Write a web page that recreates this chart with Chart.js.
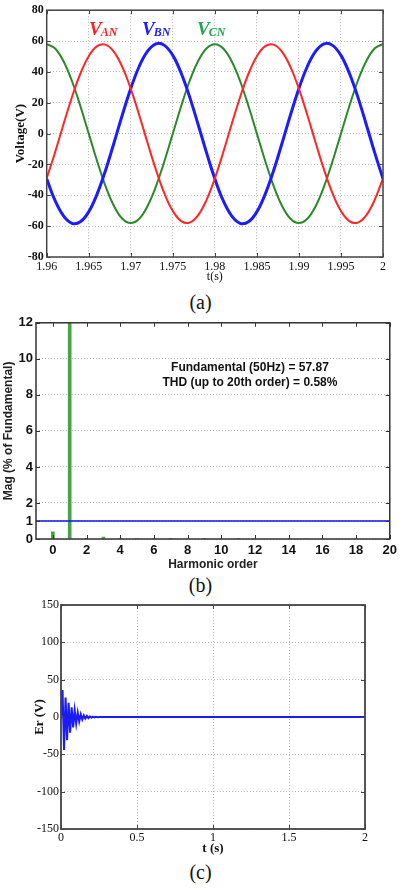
<!DOCTYPE html>
<html>
<head>
<meta charset="utf-8">
<script src="https://cdn.jsdelivr.net/npm/chart.js@4.4.0/dist/chart.umd.min.js"></script>
<style>
  body { margin: 0; background: #fff; width: 401px; height: 888px; position: relative; overflow: hidden; }
  canvas { position: absolute; left: 0; }
  .cap { position: absolute; left: 0; width: 401px; text-align: center; font: 20px "Liberation Serif", serif; line-height: 20px; color: #111; }
</style>
</head>
<body>
<canvas id="chA" width="401" height="287" style="top:0"></canvas>
<div class="cap" style="top:292px">(a)</div>
<canvas id="chB" width="401" height="262" style="top:312px"></canvas>
<div class="cap" style="top:575px">(b)</div>
<canvas id="chC" width="401" height="265" style="top:595px"></canvas>
<div class="cap" style="top:862px">(c)</div>
<script>
/* (a) phase voltages over the last two cycles */
const tA = [1.960, 1.961, 1.962, 1.963, 1.964, 1.965, 1.966, 1.967, 1.968, 1.969,
            1.970, 1.971, 1.972, 1.973, 1.974, 1.975, 1.976, 1.977, 1.978, 1.979,
            1.980, 1.981, 1.982, 1.983, 1.984, 1.985, 1.986, 1.987, 1.988, 1.989,
            1.990, 1.991, 1.992, 1.993, 1.994, 1.995, 1.996, 1.997, 1.998, 1.999, 2.000];
const vAN = [-29.0, -12.1, 6.1, 23.6, 38.8, 50.2, 56.7, 57.7, 53.0, 43.1,
             29.0, 12.1, -6.1, -23.6, -38.8, -50.2, -56.7, -57.7, -53.0, -43.1,
             -29.0, -12.1, 6.1, 23.6, 38.8, 50.2, 56.7, 57.7, 53.0, 43.1,
             29.0, 12.1, -6.1, -23.6, -38.8, -50.2, -56.7, -57.7, -53.0, -43.1, -29.0];
const vBN = [-29.3, -43.5, -53.4, -58.2, -57.2, -50.7, -39.1, -23.8, -6.1, 12.2,
             29.3, 43.5, 53.4, 58.2, 57.2, 50.7, 39.1, 23.8, 6.1, -12.2,
             -29.3, -43.5, -53.4, -58.2, -57.2, -50.7, -39.1, -23.8, -6.1, 12.2,
             29.3, 43.5, 53.4, 58.2, 57.2, 50.7, 39.1, 23.8, 6.1, -12.2, -29.3];
const vCN = [58.0, 55.2, 46.9, 34.1, 17.9, 0.0, -17.9, -34.1, -46.9, -55.2,
             -58.0, -55.2, -46.9, -34.1, -17.9, 0.0, 17.9, 34.1, 46.9, 55.2,
             58.0, 55.2, 46.9, 34.1, 17.9, 0.0, -17.9, -34.1, -46.9, -55.2,
             -58.0, -55.2, -46.9, -34.1, -17.9, 0.0, 17.9, 34.1, 46.9, 55.2, 58.0];
const xTicksA = [1.96, 1.965, 1.97, 1.975, 1.98, 1.985, 1.99, 1.995, 2];
const xTickLabelsA = ['1.96', '1.965', '1.97', '1.975', '1.98', '1.985', '1.99', '1.995', '2'];
const phaseNames = ['AN', 'BN', 'CN'];

/* (b) FFT of the phase voltage */
const harmonicOrder = [0, 1, 2, 3, 4, 5, 6, 7, 8, 9, 10, 11, 12, 13, 14, 15, 16, 17, 18, 19, 20];
const magPct = [0.4, 100, 0.02, 0.1, 0.02, 0.03, 0.01, 0.02, 0, 0.01, 0, 0.01, 0, 0, 0, 0, 0, 0, 0, 0, 0];
const refLevel = [1, 1];
const refSpan = [-1, 20];
const xTicksB = [0, 2, 4, 6, 8, 10, 12, 14, 16, 18, 20];
const yTicksB = [0, 1, 2, 4, 6, 8, 10, 12];
const fftText = ['Fundamental (50Hz) = 57.87', 'THD (up to 20th order) = 0.58%'];

/* (c) tracking error */
const tC = [0, 0.01, 0.02, 0.03, 0.04, 0.05, 0.06, 0.07, 0.08, 0.09, 0.10, 0.11,
            0.12, 0.13, 0.14, 0.15, 0.16, 0.17, 0.18, 0.19, 0.20, 0.21, 0.22, 0.23, 0.24, 0.25, 2.0];
const erC = [0, 36, -44, 26, -31, 19, -21, 13, -14, 9, -9, 6,
             -6, 3.5, -3.5, 2.2, -2.2, 1.4, -1.4, 0.9, -0.9, 0.5, -0.5, 0.3, -0.3, 0, 0];
const xTicksC = [0, 0.5, 1, 1.5, 2];
const xTickLabelsC = ['0', '0.5', '1', '1.5', '2'];

const SERIF = '"Liberation Serif", "Times New Roman", serif';
const SANS  = '"Liberation Sans", Arial, sans-serif';
const GRID  = '#b8b8b8';

const pts = (xs, ys) => xs.map((x, i) => ({ x, y: ys[i] }));
const fixTicks = list => s => { s.ticks = list.map(v => ({ value: v })); };

// box round the plot area with short inward tick marks, matlab style
const framePlugin = {
  id: 'frame',
  afterDatasetsDraw(chart, args, opts) {
    const { ctx, chartArea: a, scales } = chart;
    ctx.save();
    ctx.strokeStyle = opts.color;
    ctx.lineWidth = 1;
    ctx.beginPath();
    scales.x.ticks.forEach(t => {
      const px = Math.round(scales.x.getPixelForValue(t.value)) + 0.5;
      ctx.moveTo(px, a.bottom); ctx.lineTo(px, a.bottom - 4);
      ctx.moveTo(px, a.top);    ctx.lineTo(px, a.top + 4);
    });
    scales.y.ticks.forEach(t => {
      const py = Math.round(scales.y.getPixelForValue(t.value)) + 0.5;
      ctx.moveTo(a.left, py);  ctx.lineTo(a.left + 4, py);
      ctx.moveTo(a.right, py); ctx.lineTo(a.right - 4, py);
    });
    ctx.stroke();
    ctx.lineWidth = opts.width;
    ctx.strokeRect(a.left, a.top, a.right - a.left, a.bottom - a.top);
    ctx.restore();
  }
};

const baseOpts = {
  responsive: false,
  animation: false,
  events: [],
  plugins: { legend: { display: false }, tooltip: { enabled: false } }
};

/* ---------- (a) ---------- */
const phaseColors = ['#ff2626', '#1c1cff', '#2a8a2a'];
const phaseTextColors = ['#ff2020', '#2020f0', '#20a850'];
const phaseLabelAt = [[1.96503, 64], [1.97134, 64], [1.97788, 64]];

const phaseLabels = {
  id: 'phaseLabels',
  afterDatasetsDraw(chart) {
    const { ctx, scales: { x, y } } = chart;
    ctx.save();
    ctx.textBaseline = 'alphabetic';
    phaseNames.forEach((name, i) => {
      const px = x.getPixelForValue(phaseLabelAt[i][0]);
      const py = y.getPixelForValue(phaseLabelAt[i][1]);
      ctx.fillStyle = phaseTextColors[i];
      ctx.font = 'italic bold 19px ' + SERIF;
      ctx.fillText('V', px, py);
      const w = ctx.measureText('V').width;
      ctx.font = 'italic bold 12px ' + SERIF;
      ctx.fillText(name, px + w - 1, py + 1);
    });
    ctx.restore();
  }
};

new Chart(document.getElementById('chA'), {
  type: 'line',
  data: {
    datasets: [
      { data: pts(tA, vAN), borderColor: phaseColors[0], borderWidth: 2 },
      { data: pts(tA, vBN), borderColor: phaseColors[1], borderWidth: 3 },
      { data: pts(tA, vCN), borderColor: phaseColors[2], borderWidth: 2 }
    ]
  },
  options: {
    ...baseOpts,
    layout: { padding: { top: 7, right: 18, bottom: 0, left: 0 } },
    elements: { point: { radius: 0 }, line: { tension: 0.4 } },
    scales: {
      x: {
        type: 'linear', min: 1.96, max: 2,
        afterBuildTicks: fixTicks(xTicksA),
        afterFit: s => { s.height = 30; },
        grid: { color: GRID, drawTicks: false },
        border: { display: false, dash: [1, 2] },
        ticks: { autoSkip: false, maxRotation: 0, padding: 3, color: '#111',
                 font: { family: SERIF, size: 12 }, callback: (v, i) => xTickLabelsA[i] },
        title: { display: true, text: 't(s)', color: '#111', padding: { top: 0, bottom: 3 },
                 font: { family: SERIF, size: 12 } }
      },
      y: {
        min: -80, max: 80,
        ticks: { stepSize: 20, padding: 3, color: '#111', font: { family: SERIF, size: 12, weight: 'bold' } },
        afterFit: s => { s.width = 46.7; },
        grid: { color: GRID, drawTicks: false },
        border: { display: false, dash: [1, 2] },
        title: { display: true, text: 'Voltage(V)', color: '#111', padding: { top: 13, bottom: 0 },
                 font: { family: SERIF, size: 13, weight: 'bold' } }
      }
    },
    plugins: { ...baseOpts.plugins, frame: { color: '#444', width: 1.5 } }
  },
  plugins: [framePlugin, phaseLabels]
});

/* ---------- (b) ---------- */
const fftAnchor = [11.7, 9.5];

const fftNote = {
  id: 'fftNote',
  afterDatasetsDraw(chart) {
    const { ctx, scales: { x, y } } = chart;
    const px = x.getPixelForValue(fftAnchor[0]);
    const py = y.getPixelForValue(fftAnchor[1]);
    ctx.save();
    ctx.fillStyle = '#111';
    ctx.font = 'bold 12px ' + SANS;
    ctx.textAlign = 'center';
    ctx.textBaseline = 'middle';
    fftText.forEach((line, i) => ctx.fillText(line, px, py + i * 15));
    ctx.restore();
  }
};

new Chart(document.getElementById('chB'), {
  type: 'bar',
  data: {
    datasets: [
      { type: 'line', data: pts(refSpan, refLevel), borderColor: '#1010ff', borderWidth: 1.6,
        pointRadius: 0, clip: 0 },
      { data: pts(harmonicOrder, magPct), backgroundColor: '#47a447', barThickness: 3, clip: 0 }
    ]
  },
  options: {
    ...baseOpts,
    layout: { padding: { top: 10, right: 5, bottom: 0, left: 0 } },
    scales: {
      x: {
        type: 'linear', min: -1, max: 20, offset: false,
        afterBuildTicks: fixTicks(xTicksB),
        afterFit: s => { s.height = 35; },
        grid: { display: false, drawTicks: false },
        border: { display: false },
        ticks: { autoSkip: false, maxRotation: 0, padding: 4, color: '#111',
                 font: { family: SANS, size: 13, weight: 'bold' } },
        title: { display: true, text: 'Harmonic order', color: '#222', padding: { top: 0, bottom: 2 },
                 font: { family: SANS, size: 12, weight: 'bold' } }
      },
      y: {
        min: 0, max: 12,
        afterBuildTicks: fixTicks(yTicksB),
        afterFit: s => { s.width = 36; },
        grid: { color: GRID, drawTicks: false },
        border: { display: false, dash: [1, 2] },
        ticks: { padding: 3, color: '#111', font: { family: SANS, size: 13, weight: 'bold' } },
        title: { display: true, text: 'Mag (% of Fundamental)', color: '#222', padding: { top: 1, bottom: 0 },
                 font: { family: SANS, size: 12, weight: 'bold' } }
      }
    },
    plugins: { ...baseOpts.plugins, frame: { color: '#333', width: 1.5 } }
  },
  plugins: [framePlugin, fftNote]
});

/* ---------- (c) ---------- */
new Chart(document.getElementById('chC'), {
  type: 'line',
  data: {
    datasets: [
      { data: pts(tC, erC), borderColor: '#1a1aff', borderWidth: 2, pointRadius: 0, tension: 0 }
    ]
  },
  options: {
    ...baseOpts,
    layout: { padding: { top: 10, right: 36, bottom: 0, left: 0 } },
    scales: {
      x: {
        type: 'linear', min: 0, max: 2,
        afterBuildTicks: fixTicks(xTicksC),
        afterFit: s => { s.height = 31; },
        grid: { color: GRID, drawTicks: false },
        border: { display: false, dash: [1, 2] },
        ticks: { autoSkip: false, maxRotation: 0, padding: 2, color: '#111',
                 font: { family: SERIF, size: 12 }, callback: (v, i) => xTickLabelsC[i] },
        title: { display: true, text: 't (s)', color: '#111', padding: { top: 0, bottom: 4 },
                 font: { family: SERIF, size: 13, weight: 'bold' } }
      },
      y: {
        min: -150, max: 150,
        afterFit: s => { s.width = 61; },
        grid: { color: GRID, drawTicks: false },
        border: { display: false, dash: [1, 2] },
        ticks: { stepSize: 50, padding: 2, color: '#111', font: { family: SERIF, size: 12 } },
        title: { display: true, text: 'Er (V)', color: '#111', padding: { top: 32, bottom: 0 },
                 font: { family: SERIF, size: 13, weight: 'bold' } }
      }
    },
    plugins: { ...baseOpts.plugins, frame: { color: '#444', width: 1.8 } }
  },
  plugins: [framePlugin]
});
</script>
</body>
</html>
